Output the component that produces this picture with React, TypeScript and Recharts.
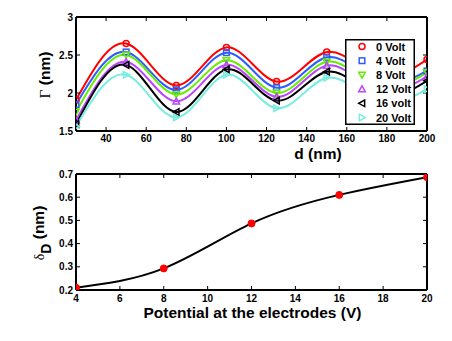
import React from 'react';
import { LineChart, Line, XAxis, YAxis, Legend } from 'recharts';

const dValues = [25, 50, 75, 100, 125, 150, 175, 200];
const volt0 = [1.91, 2.65, 2.10, 2.60, 2.15, 2.54, 2.22, 2.44];
const volt4 = [1.85, 2.54, 2.04, 2.53, 2.07, 2.47, 2.14, 2.29];
const volt8 = [1.75, 2.50, 1.98, 2.43, 2.00, 2.41, 2.08, 2.27];
const volt12 = [1.64, 2.41, 1.89, 2.37, 1.95, 2.36, 2.03, 2.22];
const volt16 = [1.59, 2.37, 1.75, 2.31, 1.90, 2.28, 1.96, 2.16];
const volt20 = [1.56, 2.24, 1.68, 2.24, 1.80, 2.20, 1.88, 2.05];

const dTicks = [40, 60, 80, 100, 120, 140, 160, 180, 200];
const gammaTicks = [1.5, 2, 2.5, 3];

const potentials = [4, 8, 12, 16, 20];
const deltaD = [0.21, 0.293, 0.487, 0.61, 0.686];
const potTicks = [4, 6, 8, 10, 12, 14, 16, 18, 20];
const deltaTicks = [0.2, 0.3, 0.4, 0.5, 0.6, 0.7];

type Shape = 'circle' | 'square' | 'down' | 'up' | 'left' | 'right';

const series: { key: string; name: string; color: string; shape: Shape; values: number[] }[] = [
  { key: 'v0', name: '0 Volt', color: '#ff0000', shape: 'circle', values: volt0 },
  { key: 'v4', name: '4 Volt', color: '#2e5cff', shape: 'square', values: volt4 },
  { key: 'v8', name: '8 Volt', color: '#66ee00', shape: 'down', values: volt8 },
  { key: 'v12', name: '12 Volt', color: '#bb44ff', shape: 'up', values: volt12 },
  { key: 'v16', name: '16 volt', color: '#000000', shape: 'left', values: volt16 },
  { key: 'v20', name: '20 Volt', color: '#77eedd', shape: 'right', values: volt20 },
];

const topData = dValues.map((d, i) => {
  const row: Record<string, number> = { d };
  series.forEach((s) => {
    row[s.key] = s.values[i];
  });
  return row;
});

const bottomData = potentials.map((p, i) => ({ p, delta: deltaD[i] }));

const FONT = '"Liberation Sans", Arial, Helvetica, sans-serif';
const SERIF = '"Liberation Serif", "Times New Roman", serif';

function Marker({ cx, cy, shape, color }: { cx: number; cy: number; shape: Shape; color: string }) {
  const s = 3.3;
  const common = { fill: 'none', stroke: color, strokeWidth: 1.5 };
  switch (shape) {
    case 'circle':
      return <circle cx={cx} cy={cy} r={3} {...common} />;
    case 'square':
      return <rect x={cx - 2.8} y={cy - 2.8} width={5.6} height={5.6} {...common} />;
    case 'down':
      return <polygon points={`${cx - s},${cy - s * 0.8} ${cx + s},${cy - s * 0.8} ${cx},${cy + s}`} {...common} />;
    case 'up':
      return <polygon points={`${cx - s},${cy + s * 0.8} ${cx + s},${cy + s * 0.8} ${cx},${cy - s}`} {...common} />;
    case 'left':
      return <polygon points={`${cx + s * 0.8},${cy - s} ${cx + s * 0.8},${cy + s} ${cx - s},${cy}`} {...common} />;
    case 'right':
      return <polygon points={`${cx - s * 0.8},${cy - s} ${cx - s * 0.8},${cy + s} ${cx + s},${cy}`} {...common} />;
  }
  return null;
}

const tickStyle = { fontFamily: FONT, fontSize: 10, fontWeight: 'bold', fill: '#000' } as const;
const axisLine = { stroke: '#000', strokeWidth: 2 };
const tickLine = { stroke: '#000', strokeWidth: 1 };
const noTick = () => <g />;

function renderLegend() {
  return (
    <svg width={70} height={86} style={{ display: 'block' }}>
      <rect x={0.75} y={0.75} width={68.5} height={84.5} fill="#fff" stroke="#000" strokeWidth={1.5} />
      {series.map((s, i) => {
        const y = 7.5 + i * 14.2;
        return (
          <g key={s.key}>
            <Marker cx={17} cy={y} shape={s.shape} color={s.color} />
            <text x={31} y={y + 4} fontFamily={FONT} fontSize={11} fontWeight="bold" fill="#000">
              {s.name}
            </text>
          </g>
        );
      })}
    </svg>
  );
}

export default function App() {
  return (
    <div style={{ position: 'absolute', left: 0, top: 0, width: 452, height: 341, background: '#fff' }}>
      <div style={{ position: 'absolute', left: 0, top: 0 }}>
        <LineChart width={452} height={170} data={topData} margin={{ top: 17, right: 25, left: 46, bottom: 19 }}>
          <XAxis
            xAxisId="xb"
            dataKey="d"
            type="number"
            domain={[25, 200]}
            ticks={dTicks}
            allowDataOverflow
            height={20}
            tickSize={0}
            tickMargin={4}
            tick={tickStyle}
            axisLine={axisLine}
            tickLine={false}
            label={{
              content: () => (
                <text x={318} y={159} textAnchor="middle" fontFamily={FONT} fontSize={15.5} fontWeight="bold" fill="#000">
                  d (nm)
                </text>
              ),
            }}
          />
          <XAxis xAxisId="xbm" dataKey="d" type="number" domain={[25, 200]} ticks={dTicks} allowDataOverflow orientation="bottom" mirror tickSize={4} tick={noTick} tickLine={tickLine} axisLine={false} />
          <XAxis xAxisId="xt" dataKey="d" type="number" domain={[25, 200]} ticks={dTicks} allowDataOverflow orientation="top" mirror tickSize={4} tick={noTick} tickLine={tickLine} axisLine={axisLine} />
          <YAxis
            yAxisId="yl"
            type="number"
            domain={[1.5, 3]}
            ticks={gammaTicks}
            allowDataOverflow
            width={30}
            tickSize={0}
            tickMargin={3}
            tick={tickStyle}
            axisLine={axisLine}
            tickLine={false}
            label={{
              content: () => (
                <text x={50} y={75} transform="rotate(-90 50 75)" textAnchor="middle" fontFamily={FONT} fontSize={15.5} fontWeight="bold" fill="#000">
                  <tspan fontFamily={SERIF} fontWeight="normal">Γ</tspan>
                  <tspan> (nm)</tspan>
                </text>
              ),
            }}
          />
          <YAxis yAxisId="ylm" type="number" domain={[1.5, 3]} ticks={gammaTicks} allowDataOverflow orientation="left" mirror tickSize={4} tick={noTick} tickLine={tickLine} axisLine={false} />
          <YAxis yAxisId="yr" type="number" domain={[1.5, 3]} ticks={gammaTicks} allowDataOverflow orientation="right" mirror tickSize={4} tick={noTick} tickLine={tickLine} axisLine={axisLine} />
          {series.map((s) => (
            <Line
              key={s.key}
              xAxisId="xb"
              yAxisId="yl"
              dataKey={s.key}
              name={s.name}
              type="natural"
              stroke={s.color}
              strokeWidth={2}
              isAnimationActive={false}
              dot={(p: any) => <Marker key={`${s.key}-${p.index}`} cx={p.cx} cy={p.cy} shape={s.shape} color={s.color} />}
              activeDot={false}
            />
          ))}
          <Legend
            layout="vertical"
            align="center"
            verticalAlign="middle"
            content={renderLegend}
            wrapperStyle={{ position: 'absolute', left: 345, top: 39, width: 70, height: 86, right: 'auto', bottom: 'auto' }}
          />
        </LineChart>
      </div>
      <div style={{ position: 'absolute', left: 0, top: 160 }}>
        <LineChart width={452} height={181} data={bottomData} margin={{ top: 14, right: 25, left: 46, bottom: 31 }}>
          <XAxis
            xAxisId="xb"
            dataKey="p"
            type="number"
            domain={[4, 20]}
            ticks={potTicks}
            allowDataOverflow
            height={20}
            tickSize={0}
            tickMargin={5}
            tick={tickStyle}
            axisLine={axisLine}
            tickLine={false}
            label={{
              content: () => (
                <text x={252.5} y={157.7} textAnchor="middle" fontFamily={FONT} fontSize={15.5} fontWeight="bold" fill="#000">
                  Potential at the electrodes (V)
                </text>
              ),
            }}
          />
          <XAxis xAxisId="xbm" dataKey="p" type="number" domain={[4, 20]} ticks={potTicks} allowDataOverflow orientation="bottom" mirror tickSize={4} tick={noTick} tickLine={tickLine} axisLine={false} />
          <XAxis xAxisId="xt" dataKey="p" type="number" domain={[4, 20]} ticks={potTicks} allowDataOverflow orientation="top" mirror tickSize={4} tick={noTick} tickLine={tickLine} axisLine={axisLine} />
          <YAxis
            yAxisId="yl"
            type="number"
            domain={[0.2, 0.7]}
            ticks={deltaTicks}
            allowDataOverflow
            width={30}
            tickSize={0}
            tickMargin={3}
            tick={tickStyle}
            axisLine={axisLine}
            tickLine={false}
            label={{
              content: () => (
                <text x={44} y={73} transform="rotate(-90 44 73)" textAnchor="middle" fontFamily={FONT} fontSize={15.5} fontWeight="bold" fill="#000">
                  <tspan fontFamily={SERIF} fontWeight="normal" fontSize={14}>δ</tspan>
                  <tspan fontSize={14} dy={7}>D</tspan>
                  <tspan dy={-7}> (nm)</tspan>
                </text>
              ),
            }}
          />
          <YAxis yAxisId="ylm" type="number" domain={[0.2, 0.7]} ticks={deltaTicks} allowDataOverflow orientation="left" mirror tickSize={4} tick={noTick} tickLine={tickLine} axisLine={false} />
          <YAxis yAxisId="yr" type="number" domain={[0.2, 0.7]} ticks={deltaTicks} allowDataOverflow orientation="right" mirror tickSize={4} tick={noTick} tickLine={tickLine} axisLine={axisLine} />
          <Line
            xAxisId="xb"
            yAxisId="yl"
            dataKey="delta"
            type="natural"
            stroke="#000"
            strokeWidth={2}
            isAnimationActive={false}
            dot={{ r: 3.5, fill: '#ff0000', stroke: '#ff0000', strokeWidth: 1 }}
            activeDot={false}
          />
        </LineChart>
      </div>
    </div>
  );
}
